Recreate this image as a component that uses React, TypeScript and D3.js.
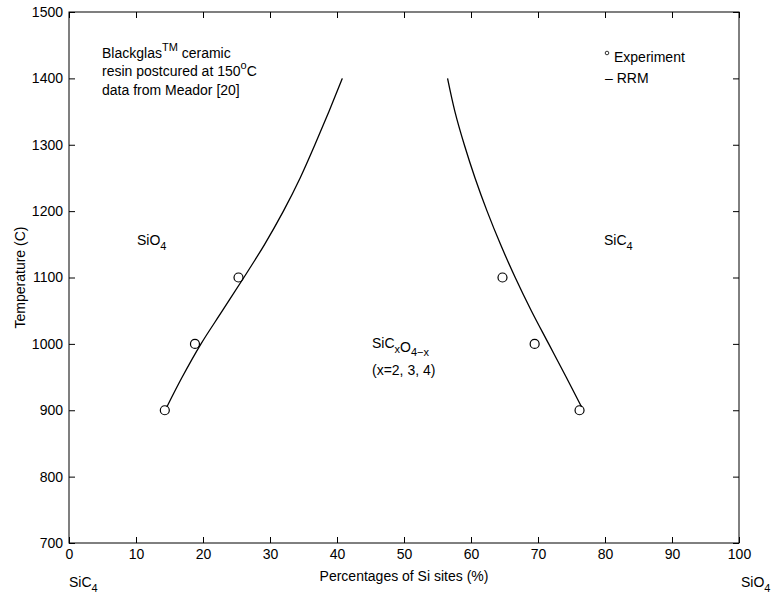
import React, { useEffect, useRef } from 'react';
import * as d3 from 'd3';

const width = 772;
const height = 596;
const margin = { top: 12, right: 33, bottom: 53, left: 69 };

// x: percentage of Si sites, y: temperature (C)
const xTicks = [0, 10, 20, 30, 40, 50, 60, 70, 80, 90, 100];
const yTicks = [700, 800, 900, 1000, 1100, 1200, 1300, 1400, 1500];

// experiment points (Meador)
const expX = [14.3, 18.8, 25.3, 64.7, 69.5, 76.2];
const expT = [900, 1000, 1100, 1100, 1000, 900];

// RRM model curves
const leftX = [14.6, 16.9, 19.7, 22.9, 26.1, 29.2, 32.0, 34.5, 36.7, 38.8, 40.8];
const leftT = [905, 950, 1000, 1050, 1100, 1150, 1200, 1250, 1300, 1350, 1400];
const rightX = [76.5, 74.2, 71.6, 69.0, 66.6, 64.4, 62.4, 60.6, 59.0, 57.6, 56.5];
const rightT = [905, 950, 1000, 1050, 1100, 1150, 1200, 1250, 1300, 1350, 1400];

const font = 'Liberation Sans, Arial, Helvetica, sans-serif';

function App() {
  const bottomRef = useRef<SVGGElement>(null);
  const topRef = useRef<SVGGElement>(null);
  const leftRef = useRef<SVGGElement>(null);
  const rightRef = useRef<SVGGElement>(null);

  const x = d3.scaleLinear().domain([0, 100]).range([margin.left, width - margin.right]);
  const y = d3.scaleLinear().domain([700, 1500]).range([height - margin.bottom, margin.top]);

  useEffect(() => {
    const style = (g: d3.Selection<SVGGElement, unknown, null, undefined>) => {
      g.select('.domain').remove();
      g.selectAll('text').attr('font-family', font).attr('font-size', 14).attr('fill', '#000');
      g.selectAll('line').attr('stroke', '#000');
    };
    const fmt = d3.format('d');
    d3.select(bottomRef.current!).call(d3.axisBottom(x).tickValues(xTicks).tickFormat(fmt).tickSize(-6).tickPadding(6)).call(style);
    d3.select(topRef.current!).call(d3.axisTop(x).tickValues(xTicks).tickSize(-6).tickFormat(() => '')).call(style);
    d3.select(leftRef.current!).call(d3.axisLeft(y).tickValues(yTicks).tickFormat(fmt).tickSize(-6).tickPadding(6)).call(style);
    d3.select(rightRef.current!).call(d3.axisRight(y).tickValues(yTicks).tickSize(-6).tickFormat(() => '')).call(style);
  }, []);

  const leftPath = d3.line<number>().curve(d3.curveMonotoneY)
    .x((d, i) => x(leftX[i])).y((d) => y(d))(leftT);
  const rightPath = d3.line<number>().curve(d3.curveMonotoneY)
    .x((d, i) => x(rightX[i])).y((d) => y(d))(rightT);

  return (
    <div>
      <style>{'body{margin:0}'}</style>
      <svg width={width} height={height} style={{ display: 'block', background: '#fff' }} fontFamily={font} fontSize={14}>
        <rect x={margin.left} y={margin.top} width={width - margin.left - margin.right}
          height={height - margin.top - margin.bottom} fill="none" stroke="#000" strokeWidth={1} />
        <g ref={bottomRef} transform={`translate(0, ${height - margin.bottom})`} />
        <g ref={topRef} transform={`translate(0, ${margin.top})`} />
        <g ref={leftRef} transform={`translate(${margin.left}, 0)`} />
        <g ref={rightRef} transform={`translate(${width - margin.right}, 0)`} />

        <path d={leftPath ?? ''} fill="none" stroke="#000" strokeWidth={1.3} />
        <path d={rightPath ?? ''} fill="none" stroke="#000" strokeWidth={1.3} />
        {expX.map((d, i) => (
          <circle key={i} cx={x(d)} cy={y(expT[i])} r={4.5} fill="none" stroke="#000" strokeWidth={1.2} />
        ))}

        {/* annotation */}
        <text x={102} y={58}>Blackglas<tspan dy={-7} fontSize={11}>TM</tspan><tspan dy={7}> ceramic</tspan></text>
        <text x={102} y={76}>resin postcured at 150<tspan dy={-7} fontSize={11}>o</tspan><tspan dy={7}>C</tspan></text>
        <text x={102} y={95}>data from Meador [20]</text>

        {/* legend */}
        <circle cx={607} cy={53} r={1.8} fill="none" stroke="#000" strokeWidth={0.8} />
        <text x={614} y={62}>Experiment</text>
        <text x={605} y={83}>– RRM</text>

        {/* region labels */}
        <text x={137} y={245}>SiO<tspan dy={5} fontSize={11}>4</tspan></text>
        <text x={604} y={245}>SiC<tspan dy={5} fontSize={11}>4</tspan></text>
        <text x={372} y={348}>SiC<tspan dy={5} fontSize={11}>x</tspan><tspan dy={-1}>O</tspan><tspan dy={4} fontSize={11}>4−x</tspan></text>
        <text x={372} y={375}>(x=2, 3, 4)</text>

        {/* axis titles */}
        <text x={(x(0) + x(100)) / 2} y={581} textAnchor="middle">Percentages of Si sites (%)</text>
        <text x={69} y={587}>SiC<tspan dy={5} fontSize={11}>4</tspan></text>
        <text x={741} y={587}>SiO<tspan dy={5} fontSize={11}>4</tspan></text>
        <text transform={`translate(25, ${(y(700) + y(1500)) / 2}) rotate(-90)`} textAnchor="middle">Temperature (C)</text>
      </svg>
    </div>
  );
}

export default App;
